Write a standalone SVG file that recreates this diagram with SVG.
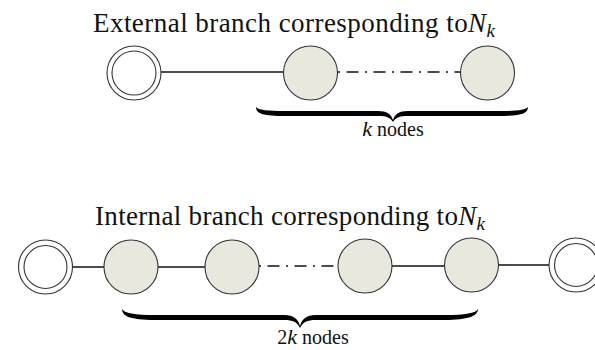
<svg xmlns="http://www.w3.org/2000/svg" width="595" height="350" viewBox="0 0 595 350">
<style>
.t{font-family:"Liberation Serif","Times New Roman",serif;font-size:27px;fill:#111}
.m{font-family:"Liberation Serif","Times New Roman",serif;font-style:italic}
.s{font-family:"Liberation Serif","Times New Roman",serif;font-size:20px;fill:#111}
.node{fill:#e8e8de;stroke:#333;stroke-width:1.1}
.term{fill:#fff;stroke:#333;stroke-width:1.1}
.edge{stroke:#111;stroke-width:1.5;fill:none}
.dd{stroke:#111;stroke-width:1.5;fill:none;stroke-dasharray:2 6.5 12 6.5}
.brace{fill:#000}
</style>
<rect width="595" height="350" fill="#fff"/>
<text class="t" x="93" y="32" textLength="402" lengthAdjust="spacing">External branch corresponding to<tspan class="m">N</tspan><tspan class="m" font-size="19" dy="5">k</tspan></text>
<text class="t" x="95" y="225" textLength="390" lengthAdjust="spacing">Internal branch corresponding to<tspan class="m">N</tspan><tspan class="m" font-size="19" dy="5">k</tspan></text>
<g id="connectors">
<line class="edge" x1="161" y1="72" x2="284" y2="72"/>
<line class="dd" x1="338" y1="72" x2="461" y2="72"/>
<line class="edge" x1="72" y1="267" x2="104" y2="267"/>
<line class="edge" x1="158" y1="267" x2="205" y2="267"/>
<line class="dd" x1="259" y1="266" x2="338" y2="266"/>
<line class="edge" x1="392" y1="266" x2="444" y2="266"/>
<line class="edge" x1="498" y1="265" x2="549" y2="265"/>
</g>
<g id="ext-root"><circle class="term" cx="134" cy="73" r="27"/><circle class="term" cx="134" cy="73" r="22"/></g>
<g id="ext-n1"><circle class="node" cx="310.5" cy="73" r="27"/></g>
<g id="ext-nk"><circle class="node" cx="487.5" cy="73" r="27"/></g>
<g id="int-root-left"><circle class="term" cx="45.5" cy="267" r="27"/><circle class="term" cx="45.5" cy="267" r="21.5"/></g>
<g id="int-n1"><circle class="node" cx="131" cy="267" r="27"/></g>
<g id="int-n2"><circle class="node" cx="232" cy="267" r="27"/></g>
<g id="int-n3"><circle class="node" cx="365" cy="266" r="27"/></g>
<g id="int-n4"><circle class="node" cx="471.5" cy="265" r="27"/></g>
<g id="int-root-right"><circle class="term" cx="576" cy="265" r="27"/><circle class="term" cx="576" cy="265" r="21.5"/></g>
<g id="brace-top">
<path class="brace" d="M256,107 C258,110 268,111 285,111 L378,111 C387,111 391,114 393,120 C395,114 399,111 408,111 L499,111 C516,111 526,110 528,107 C528,114 520,116 499,116 L408,116 C400,116 396,117 393,122 C390,117 386,116 378,116 L285,116 C264,116 256,114 256,107 Z"/>
<text class="s" x="393" y="136" text-anchor="middle" font-family="Liberation Serif, serif"><tspan class="m" font-size="22">k</tspan> nodes</text>
</g>
<g id="brace-bottom">
<path class="brace" d="M122,309 C124,313 135,315 155,315 L284,315 C294,315 298,319 300,326 C302,319 306,315 316,315 L445,315 C465,315 476,313 478,309 C478,316 468,320 445,320 L316,320 C307,320 303,322 300,328 C297,322 293,320 284,320 L155,320 C130,320 122,316 122,309 Z"/>
<text class="s" x="313" y="344" text-anchor="middle" font-family="Liberation Serif, serif">2<tspan class="m" font-size="22">k</tspan> nodes</text>
</g>
</svg>
